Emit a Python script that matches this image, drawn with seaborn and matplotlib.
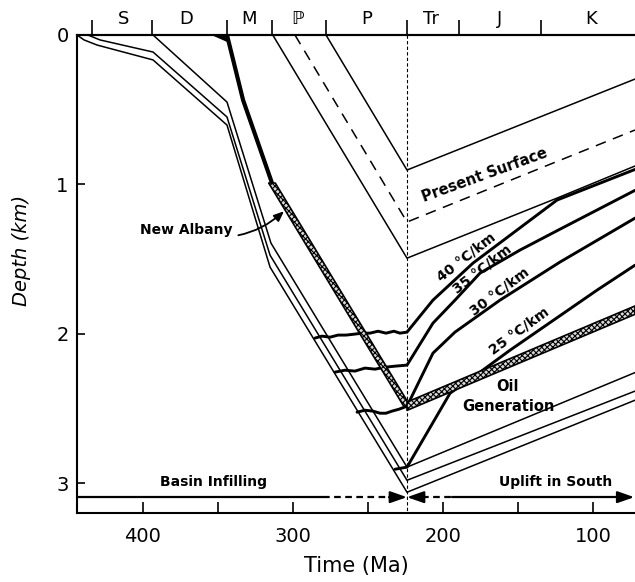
import matplotlib
matplotlib.use("Agg")
import matplotlib.pyplot as plt
import seaborn as sns
import numpy as np

sns.set_style("white")
plt.rcParams["font.family"] = ["DejaVu Sans"]
plt.rcParams["hatch.linewidth"] = 0.8
plt.rcParams["text.color"] = "black"
plt.rcParams["axes.labelcolor"] = "black"
plt.rcParams["xtick.color"] = "black"
plt.rcParams["ytick.color"] = "black"

# ---------------- data (time in Ma, depth in km) ----------------
period_bounds = [434, 394, 344, 314, 278, 224, 189, 135]
period_centers = [413, 371, 329, 297, 251, 208, 162, 101]
period_labels = ["S", "D", "M", "\u2119", "P", "Tr", "J", "K"]

# burial horizons
hor_A_t = [444.0, 439.3, 430.7, 393.3, 344.0, 315.3, 224.0, 72.0]
hor_A_d = [0.0, 0.033, 0.067, 0.167, 0.603, 1.554, 3.061, 2.445]
hor_B_t = [436.7, 428.7, 393.3, 344.0, 315.3, 224.0, 72.0]
hor_B_d = [0.0, 0.033, 0.114, 0.549, 1.474, 2.981, 2.384]
hor_C_t = [393.3, 344.0, 314.7, 224.0, 72.0]
hor_C_d = [0.0, 0.449, 1.393, 2.893, 2.26]
penn_t = [313.5, 224.0, 124.0, 72.0]
penn_d = [0.0, 1.494, 1.092, 0.877]
surf_t = [298.7, 224.0, 72.0]
surf_d = [0.0, 1.252, 0.636]
perm_t = [278.0, 224.0, 72.0]
perm_d = [0.0, 0.904, 0.295]

# New Albany shale
na_solid_t = [344.0, 333.3, 314.0]
na_solid_d = [0.0, 0.435, 0.991]
na_hatch_t = [314.0, 224.0, 72.0]
na_hatch_d = [0.991, 2.485, 1.842]
na_wedge_t = [353.3, 344.0, 342.7]
na_wedge_d = [0.0, 0.0, 0.047]

# oil-window depth for several geothermal gradients
g40_t = [285.3, 280.7, 275.3, 270.0, 264.7, 259.3, 254.0, 248.7, 243.3, 238.0, 232.7, 228.7, 224.0,
         206.7, 180.0, 124.0, 72.0]
g40_d = [2.029, 2.016, 2.023, 2.009, 2.009, 2.003, 1.996, 1.996, 1.983, 1.996, 1.983, 1.996, 1.989,
         1.775, 1.527, 1.105, 0.90]
g35_t = [272.0, 265.3, 258.7, 252.0, 245.3, 238.7, 232.0, 224.0,
         206.7, 192.0, 175.3, 148.7, 122.0, 72.0]
g35_d = [2.257, 2.244, 2.250, 2.230, 2.237, 2.224, 2.217, 2.210,
         1.929, 1.775, 1.594, 1.44, 1.30, 1.04]
g30_t = [257.3, 252.0, 246.7, 242.0, 238.0, 234.0, 229.3, 224.0,
         206.7, 192.0, 162.0, 122.0, 72.0]
g30_d = [2.525, 2.512, 2.518, 2.532, 2.532, 2.518, 2.505, 2.485,
         2.13, 1.989, 1.775, 1.52, 1.226]
g25_t = [232.0, 224.0, 195.3, 175.3, 155.3, 97.3, 72.0]
g25_d = [2.907, 2.893, 2.398, 2.257, 2.11, 1.708, 1.541]

phase_names = ["Basin Infilling", "Uplift in South"]
phase_start = [444, 224]
phase_end = [224, 72]
turn_time = 224

# ---------------- figure ----------------
fig = plt.figure(figsize=(6.35, 5.82), dpi=100)
ax = fig.add_axes([77 / 635, 1 - 513 / 582, (635 - 77) / 635, (513 - 35) / 582])


def line(t, d, lw=1.1, ls="-", z=2):
    sns.lineplot(x=t, y=d, sort=False, estimator=None, ax=ax, color="black",
                 linewidth=lw, linestyle=ls, zorder=z)


for t, d in [(hor_A_t, hor_A_d), (hor_B_t, hor_B_d), (hor_C_t, hor_C_d),
             (penn_t, penn_d), (perm_t, perm_d)]:
    line(t, d)
line(surf_t, surf_d, lw=1.1, ls=(0, (7, 5)))

for t, d in [(g40_t, g40_d), (g35_t, g35_d), (g30_t, g30_d), (g25_t, g25_d)]:
    line(t, d, lw=2.1, z=3)

# New Albany
line(na_solid_t, na_solid_d, lw=3.0, z=4)
ax.fill(na_wedge_t, na_wedge_d, color="black", zorder=4)
t0, t1, t2 = na_hatch_t
d0, d1, d2 = na_hatch_d
ax.fill_betweenx([d0, d1], [t0 - 2.2, t1 - 2.2], [t0 + 2.2, t1 + 2.2],
                 facecolor="#d8d8d8", edgecolor="black", hatch="xxxxxx", lw=1.2, zorder=5)
ax.fill_between([t1, t2], [d1 - 0.028, d2 - 0.028], [d1 + 0.028, d2 + 0.028],
                facecolor="#d8d8d8", edgecolor="black", hatch="xxxxxx", lw=1.2, zorder=5)

# vertical dotted line at turning point
line([turn_time, turn_time], [0, 3.2], lw=0.8, ls=(0, (3, 2)), z=1)

# phase arrows
ya = 3.094
head = "-|>,head_length=1.0,head_width=0.35"
line([phase_start[0], 280], [ya, ya], lw=1.6)
line([280, phase_end[0] + 12], [ya, ya], lw=1.6, ls=(0, (3, 2)))
ax.annotate("", xy=(phase_end[0], ya), xytext=(phase_end[0] + 12, ya),
            arrowprops=dict(arrowstyle=head, color="k", lw=1.6, shrinkA=0, shrinkB=0))
ax.annotate("", xy=(phase_start[1], ya), xytext=(phase_start[1] - 10, ya),
            arrowprops=dict(arrowstyle=head, color="k", lw=1.6, shrinkA=0, shrinkB=0))
line([phase_start[1] - 10, 194], [ya, ya], lw=1.6, ls=(0, (3, 2)))
line([194, phase_end[1] + 8], [ya, ya], lw=1.6)
ax.annotate("", xy=(phase_end[1] + 0.5, ya), xytext=(phase_end[1] + 10, ya),
            arrowprops=dict(arrowstyle=head, color="k", lw=1.6, shrinkA=0, shrinkB=0))
ax.text(353.3, 2.99, phase_names[0], ha="center", va="center", fontsize=10, fontweight="bold")
ax.text(124.7, 2.99, phase_names[1], ha="center", va="center", fontsize=10, fontweight="bold")

# labels
ax.text(172, 0.94, "Present Surface", rotation=20, ha="center", va="center",
        fontsize=10.5, fontweight="bold")
ax.text(184.7, 1.49, "40 \u00b0C/km", rotation=38, ha="center", va="center", fontsize=10, fontweight="bold")
ax.text(174.0, 1.57, "35 \u00b0C/km", rotation=38, ha="center", va="center", fontsize=10, fontweight="bold")
ax.text(162.0, 1.72, "30 \u00b0C/km", rotation=37, ha="center", va="center", fontsize=10, fontweight="bold")
ax.text(149.3, 1.98, "25 \u00b0C/km", rotation=36, ha="center", va="center", fontsize=10, fontweight="bold")
ax.text(156.7, 2.35, "Oil", ha="center", va="center", fontsize=10.5, fontweight="bold")
ax.text(156.7, 2.485, "Generation", ha="center", va="center", fontsize=10.5, fontweight="bold")
ax.annotate("New Albany", xy=(306, 1.18), xytext=(371.3, 1.306), ha="center", va="center",
            fontsize=10, fontweight="bold",
            arrowprops=dict(arrowstyle="-|>,head_length=0.6,head_width=0.25",
                            connectionstyle="arc3,rad=0.3", color="k", lw=1.3,
                            shrinkA=2, shrinkB=0))

# axes
ax.set_xlim(444, 72)
ax.set_ylim(3.2, 0)
ax.set_xticks([400, 300, 200, 100])
ax.set_xticks([350, 250, 150], minor=True)
ax.set_yticks([0, 1, 2, 3])
ax.set_yticklabels(["0", "1", "2", "3"])
ax.tick_params(axis="x", which="both", direction="in", length=8, width=1.2,
               labelsize=14, pad=10, bottom=True, top=False, colors="black")
ax.tick_params(axis="y", direction="in", length=6, width=1.2, labelsize=14, pad=6, left=True,
               colors="black")
ax.set_xlabel("Time (Ma)", fontsize=15, labelpad=7, color="black")
ax.set_ylabel("")
for s in ["left", "bottom", "top"]:
    ax.spines[s].set_visible(True)
    ax.spines[s].set_linewidth(1.5)
    ax.spines[s].set_color("black")
ax.spines["right"].set_visible(False)

tax = ax.twiny()
tax.set_xlim(444, 72)
tax.set_xticks(period_bounds)
tax.set_xticklabels([])
tax.set_xticks(period_centers, minor=True)
tax.set_xticklabels(period_labels, minor=True, fontsize=13)
tax.tick_params(axis="x", which="major", direction="out", length=11, width=1.2, colors="black")
tax.tick_params(axis="x", which="minor", length=0, pad=5, colors="black")
for s in ["left", "bottom", "right"]:
    tax.spines[s].set_visible(False)
tax.spines["top"].set_linewidth(1.5)
tax.spines["top"].set_color("black")

fig.text(22 / 635, 1 - 250 / 582, "Depth (km)", rotation=90, style="italic",
         fontsize=14, ha="center", va="center", color="black")

fig.savefig("out.png", dpi=100, facecolor="white")
